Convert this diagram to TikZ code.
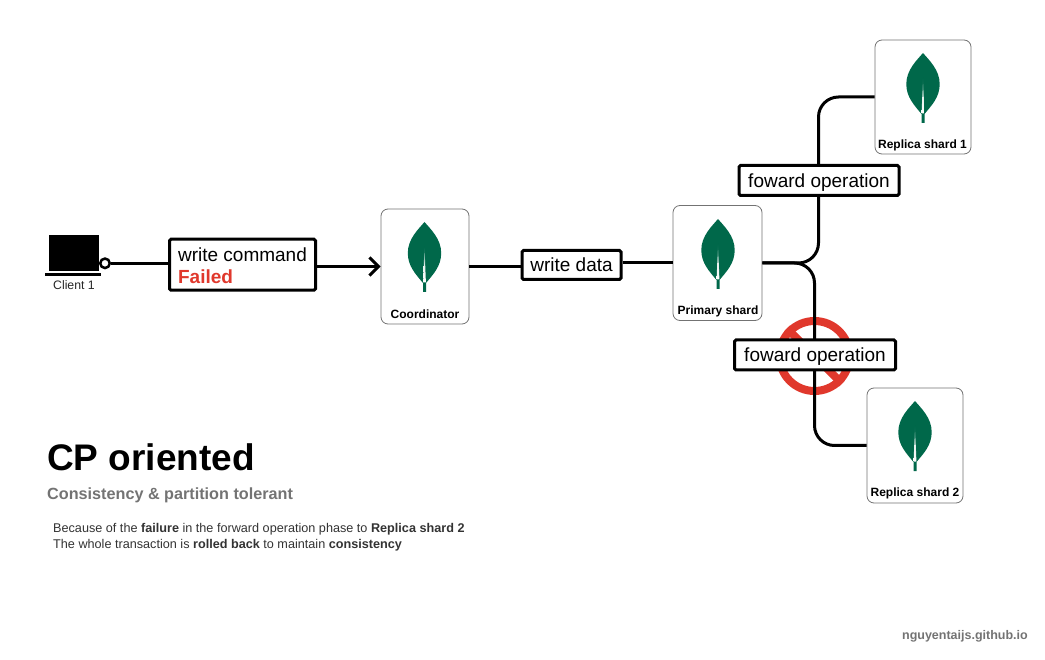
\documentclass[tikz,border=0pt]{standalone}
\usepackage{fontspec}
\setmainfont{Liberation Sans}
\usepackage{xcolor}
\usetikzlibrary{arrows.meta}

\definecolor{leafgreen}{HTML}{00684A}
\definecolor{failred}{HTML}{E0382C}
\newcommand{\fs}[1]{\fontsize{#1}{#1}\selectfont}

\tikzset{
    leaf/.pic={
        \fill [leafgreen] (0,0) .. controls (6,7) and (16.7,17) .. (16.7,31) .. controls (16.7,44) and (9,52) .. (1.5,61) -- (1.5,70) -- (-1.5,70) -- (-1.5,61) .. controls (-9,52) and (-16.7,44) .. (-16.7,31) .. controls (-16.7,17) and (-6,7) .. (0,0);
        \shade [top color=leafgreen, bottom color=white, middle color=white!90!leafgreen] (0,25) -- (1.4,60.5) -- (-1.4,60.5) -- cycle;
    }
}

\begin{document}
\begin{tikzpicture}[x=1pt, y=-1pt]
    \tikzstyle{shard} = [rectangle, rounded corners=7pt, draw=black!55, line width=0.8pt, fill=white, inner sep=0pt]
    \tikzstyle{shardtext} = [font=\fs{12}\bfseries, inner sep=0pt]
    \tikzstyle{tag} = [rectangle, rounded corners=1.5pt, draw=black, line width=3pt, fill=white, inner sep=0pt, font=\fs{19}]
    \tikzstyle{wire} = [line width=3pt, black]
    \tikzstyle{arrow} = [wire, -{Straight Barb[length=9pt, width=18pt]}]

    \useasboundingbox (0,0) rectangle (1045,660);

    % client
    \node (screen) [fill=black, minimum width=50pt, minimum height=36pt, inner sep=0pt] at (73.5,253) {};
    \node (base) [fill=black, minimum width=56pt, minimum height=2.5pt, inner sep=0pt] at (73,274.5) {};
    \node (clienttext) [font=\fs{12.3}, text=black!85, inner sep=0pt] at (74,285.5) {Client 1};
    \node (port) [circle, draw=black, line width=2.5pt, fill=white, minimum size=9.5pt, inner sep=0pt] at (105,263.3) {};

    % shards
    \node (coordinator) [shard, minimum width=88pt, minimum height=115pt] at (425,266.5) {};
    \node (primary) [shard, minimum width=89pt, minimum height=115pt] at (717.5,263) {};
    \node (replicaone) [shard, minimum width=96pt, minimum height=114pt] at (923,97) {};
    \node (replicatwo) [shard, minimum width=96pt, minimum height=115pt] at (915,445.5) {};
    \pic at (424.5,222) {leaf};
    \pic at (718,219) {leaf};
    \pic at (923,53) {leaf};
    \pic at (915,401) {leaf};
    \node (coordinatortext) [shardtext] at (425,314) {Coordinator};
    \node (primarytext) [shardtext] at (718,311.5) {Primary shard};
    \node (replicaonetext) [shardtext] at (922.5,145.5) {Replica shard 1};
    \node (replicatwotext) [shardtext] at (915,493.5) {Replica shard 2};

    % blocked sign
    \node (blocked) [circle, draw=failred, line width=8pt, minimum size=70pt, inner sep=0pt] at (814.5,356) {};
    \draw [failred, line width=8pt] (blocked.north west) -- (blocked.south east);

    % tags
    \coordinate (upbend) at (818.5,180);
    \coordinate (downbend) at (814.5,356);
    \draw [wire, rounded corners=20pt] (primary.east) -| (upbend) |- (replicaone.west);
    \draw [wire, rounded corners=20pt] (primary.east) -| (downbend) |- (replicatwo.west);

    \node (command) [tag, minimum width=146pt, minimum height=51pt, align=left] at (242.5,264.7) {\rule{0pt}{16pt}write command\\[3pt]\textcolor{failred}{\bfseries Failed}};
    \node (writedata) [tag, minimum width=99pt, minimum height=29pt, text height=15.5pt, text depth=2pt] at (571.5,265) {write data};
    \node (forwardone) [tag, minimum width=160pt, minimum height=30pt, text height=15.5pt, text depth=2pt] at (819,180.5) {foward operation};
    \node (forwardtwo) [tag, minimum width=161pt, minimum height=30pt, text height=15.5pt, text depth=2pt] at (815,355) {foward operation};

    \draw [wire] (port.east) -- (port.east -| command.west);
    \draw [arrow] (command.east |- coordinator.west) -- (coordinator.west);
    \draw [wire] (coordinator.east) -- (coordinator.east -| writedata.west);
    \draw [wire] (writedata.east |- primary.west) -- (primary.west);

    % captions
    \node (title) [anchor=west, inner sep=0pt, font=\fs{37}\bfseries] at (47,457.5) {CP oriented};
    \node (subtitle) [anchor=west, inner sep=0pt, font=\fs{16.2}\bfseries, text=black!55] at (47,495.5) {Consistency \& partition tolerant};
    \node (lineone) [anchor=west, inner sep=0pt, font=\fs{12.65}, text=black!80] at (53,529.5) {Because of the \textbf{failure} in the forward operation phase to \textbf{Replica shard 2}};
    \node (linetwo) [anchor=west, inner sep=0pt, font=\fs{12.65}, text=black!80] at (53,545) {The whole transaction is \textbf{rolled back} to maintain \textbf{consistency}};
    \node (site) [anchor=east, inner sep=0pt, font=\fs{12.5}\bfseries, text=black!55] at (1028,636) {nguyentaijs.github.io};
\end{tikzpicture}
\end{document}
